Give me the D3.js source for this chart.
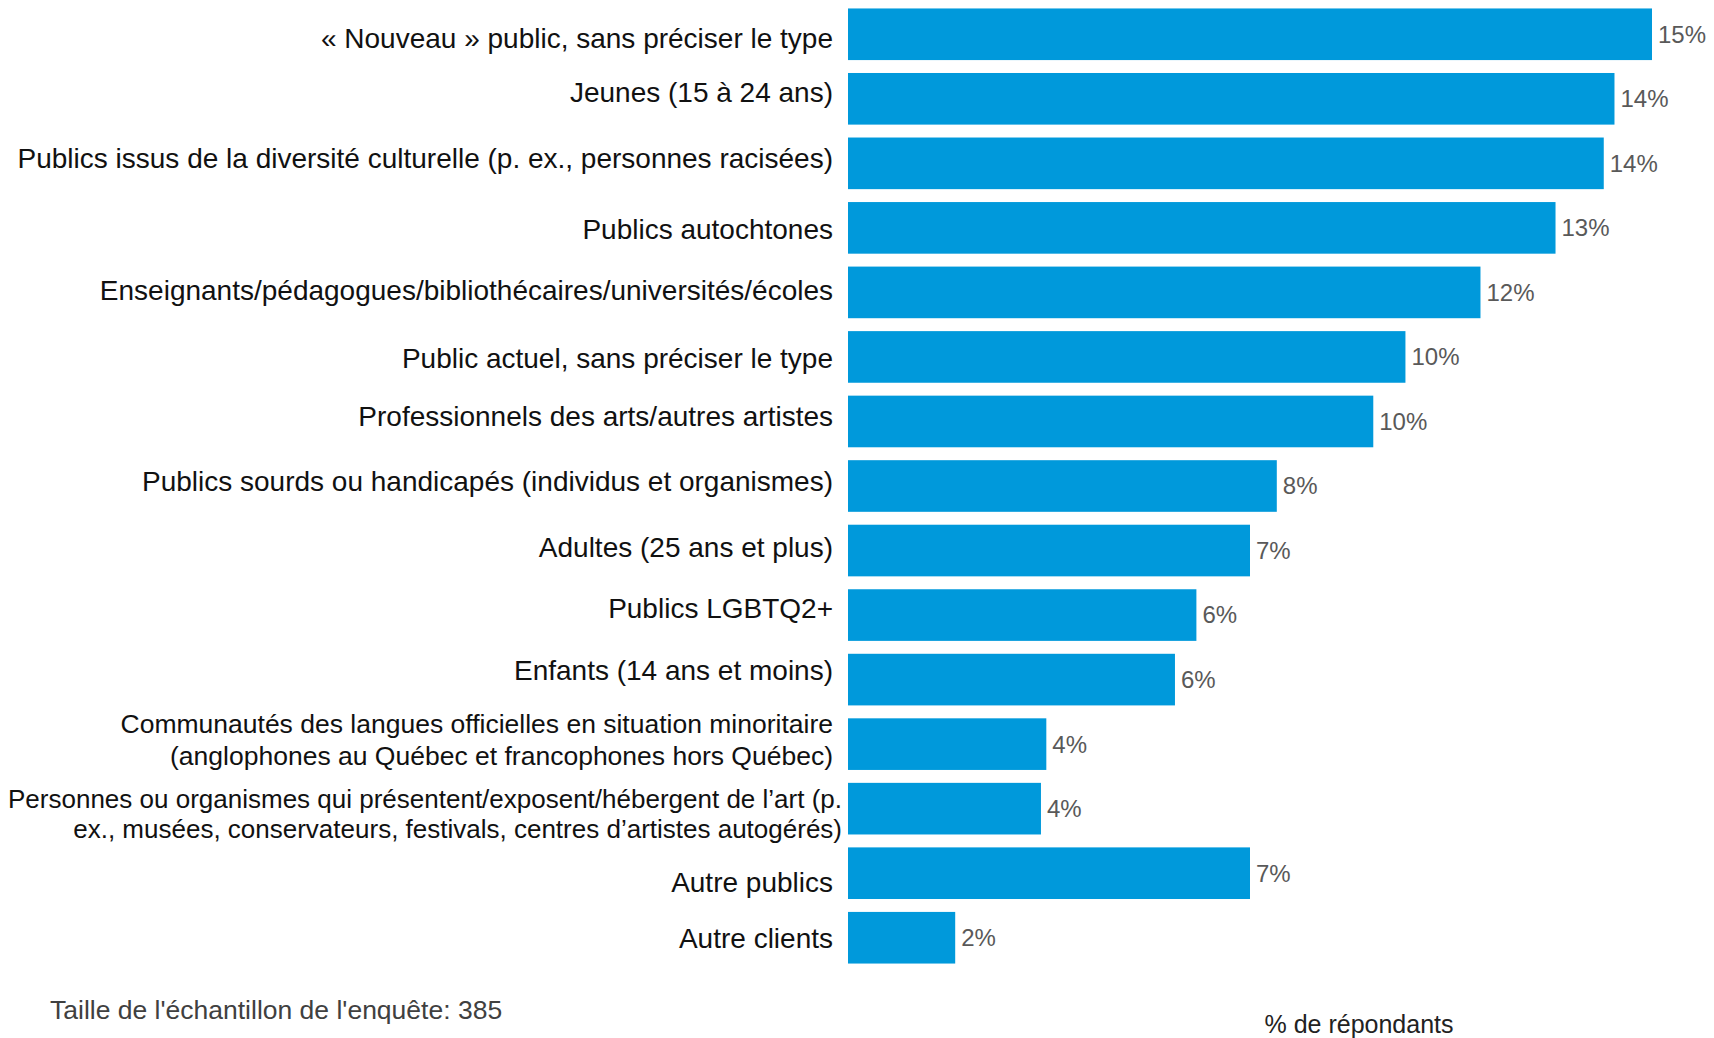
<!DOCTYPE html>
<html>
<head>
<meta charset="utf-8">
<script src="https://d3js.org/d3.v7.min.js"></script>
<style>
    body { margin: 0; background: #fff; }
    svg { display: block; font-family: "Liberation Sans", Arial, sans-serif; }
</style>
</head>
<body>
<div id="chart"></div>
<script>
var categories = [
    ["« Nouveau » public, sans préciser le type"],
    ["Jeunes (15 à 24 ans)"],
    ["Publics issus de la diversité culturelle (p. ex., personnes racisées)"],
    ["Publics autochtones"],
    ["Enseignants/pédagogues/bibliothécaires/universités/écoles"],
    ["Public actuel, sans préciser le type"],
    ["Professionnels des arts/autres artistes"],
    ["Publics sourds ou handicapés (individus et organismes)"],
    ["Adultes (25 ans et plus)"],
    ["Publics LGBTQ2+"],
    ["Enfants (14 ans et moins)"],
    ["Communautés des langues officielles en situation minoritaire", "(anglophones au Québec et francophones hors Québec)"],
    ["Personnes ou organismes qui présentent/exposent/hébergent de l’art (p.", "ex., musées, conservateurs, festivals, centres d’artistes autogérés)"],
    ["Autre publics"],
    ["Autre clients"]
];

var values = [15.0, 14.3, 14.1, 13.2, 11.8, 10.4, 9.8, 8.0, 7.5, 6.5, 6.1, 3.7, 3.6, 7.5, 2.0];

var valueLabels = ["15%", "14%", "14%", "13%", "12%", "10%", "10%", "8%", "7%", "6%", "6%", "4%", "4%", "7%", "2%"];

var sampleNote = "Taille de l'échantillon de l'enquête: 385";
var axisTitle = "% de répondants";

// petits décalages des étiquettes, comme dans l'original
var labelNudgeY = [3.5, -6.5, -5, 1, -2, 1, -5.5, -4.5, -3, -6.5, -9, -4.5, 5, 9, 0.5];

var width = 1714;
var height = 1038;
var marginLeft = 848;
var marginTop = 2;
var chartWidth = 804;
var chartHeight = 968;

var ids = d3.range(values.length);

var yScale = d3.scaleBand()
                .domain(ids)
                .range([0, chartHeight])
                .paddingInner(0.2)
                .paddingOuter(0.1);

var xScale = d3.scaleLinear()
                .domain([0, 15])
                .range([0, chartWidth]);

var svg = d3.select("#chart").append("svg")
    .attr("width", width)
    .attr("height", height);

var chart = svg.append("g")
                .attr("transform", "translate(" + marginLeft + ", " + marginTop + ")");

var barHeight = yScale.bandwidth();

// barres
chart.selectAll("rect")
    .data(values)
    .enter()
    .append("rect")
        .attr("x", 0)
        .attr("y", function(d, i) { return yScale(i); })
        .attr("width", function(d) { return xScale(d); })
        .attr("height", barHeight)
        .attr("fill", "#0099db");

// valeurs
chart.selectAll(".valeur")
    .data(values)
    .enter()
    .append("text")
        .classed("valeur", true)
        .attr("x", function(d) { return xScale(d) + 6; })
        .attr("y", function(d, i) { return yScale(i) + barHeight / 2; })
        .attr("dy", "0.35em")
        .style("font-size", "24px")
        .attr("fill", "#595959")
        .text(function(d, i) { return valueLabels[i]; });

// categories
var labels = chart.selectAll(".categorie")
    .data(categories)
    .enter()
    .append("text")
        .classed("categorie", true)
        .attr("text-anchor", "end")
        .style("font-size", function(d, i) {
            if (i == 12) return "26px";
            return d.length > 1 ? "26.5px" : "28px";
        })
        .attr("fill", "#111");

labels.each(function(lines, i) {
    var t = d3.select(this);
    var lineH = i == 12 ? 29.5 : 31.5;
    var x = i == 12 ? -6 : -15;
    var y0 = yScale(i) + barHeight / 2 + labelNudgeY[i] - (lines.length - 1) * lineH / 2;
    lines.forEach(function(line, k) {
        t.append("tspan")
            .attr("x", x)
            .attr("y", y0 + k * lineH)
            .attr("dy", "0.35em")
            .text(line);
    });
});

svg.append("text")
    .attr("x", 50)
    .attr("y", 1010)
    .attr("dy", "0.35em")
    .style("font-size", "26.5px")
    .attr("fill", "#404040")
    .text(sampleNote);

svg.append("text")
    .attr("x", 1359)
    .attr("y", 1024)
    .attr("dy", "0.35em")
    .attr("text-anchor", "middle")
    .style("font-size", "25px")
    .attr("fill", "#222")
    .text(axisTitle);
</script>
</body>
</html>
